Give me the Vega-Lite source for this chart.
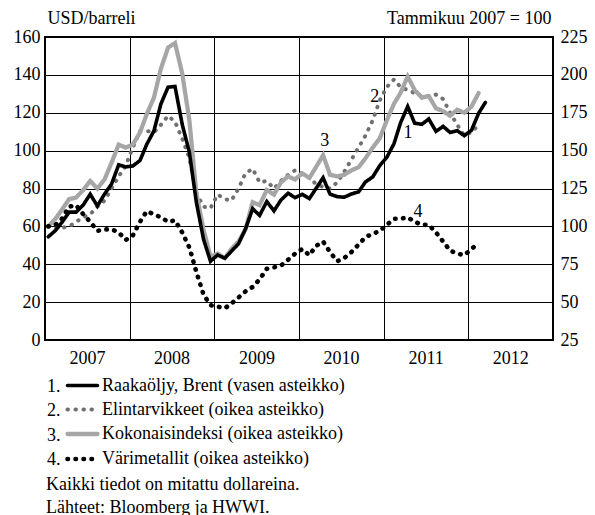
{
  "$schema": "https://vega.github.io/schema/vega-lite/v6.json",
  "width": 508,
  "height": 303,
  "autosize": {"type": "none"},
  "padding": {"left": 45, "top": 37, "right": 42, "bottom": 175},
  "background": "white",
  "title": {
    "text": ["Kaikki tiedot on mitattu dollareina.", "Lähteet: Bloomberg ja HWWI."],
    "orient": "bottom", "anchor": "start", "frame": "group", "offset": 6,
    "font": "Liberation Serif, DejaVu Serif, serif", "fontSize": 18, "fontWeight": "normal", "color": "#000", "lineHeight": 23, "dx": 1
  },
  "data": {"values": [
{"date":"2007-01-15","s":"1","v":54.5},{"date":"2007-02-15","s":"1","v":57.8},{"date":"2007-03-15","s":"1","v":62.1},{"date":"2007-04-15","s":"1","v":67.5},{"date":"2007-05-15","s":"1","v":67.5},{"date":"2007-06-15","s":"1","v":71.3},{"date":"2007-07-15","s":"1","v":77.0},{"date":"2007-08-15","s":"1","v":70.8},{"date":"2007-09-15","s":"1","v":77.1},{"date":"2007-10-15","s":"1","v":82.3},{"date":"2007-11-15","s":"1","v":92.5},{"date":"2007-12-15","s":"1","v":91.4},
{"date":"2008-01-15","s":"1","v":91.9},{"date":"2008-02-15","s":"1","v":94.8},{"date":"2008-03-15","s":"1","v":103.3},{"date":"2008-04-15","s":"1","v":110.4},{"date":"2008-05-15","s":"1","v":124.6},{"date":"2008-06-15","s":"1","v":133.5},{"date":"2008-07-15","s":"1","v":133.9},{"date":"2008-08-15","s":"1","v":113.9},{"date":"2008-09-15","s":"1","v":99.1},{"date":"2008-10-15","s":"1","v":72.8},{"date":"2008-11-15","s":"1","v":53.2},{"date":"2008-12-15","s":"1","v":41.6},
{"date":"2009-01-15","s":"1","v":44.9},{"date":"2009-02-15","s":"1","v":43.2},{"date":"2009-03-15","s":"1","v":46.8},{"date":"2009-04-15","s":"1","v":50.8},{"date":"2009-05-15","s":"1","v":58.6},{"date":"2009-06-15","s":"1","v":69.3},{"date":"2009-07-15","s":"1","v":65.8},{"date":"2009-08-15","s":"1","v":73.1},{"date":"2009-09-15","s":"1","v":68.2},{"date":"2009-10-15","s":"1","v":73.9},{"date":"2009-11-15","s":"1","v":77.5},{"date":"2009-12-15","s":"1","v":75.2},
{"date":"2010-01-15","s":"1","v":76.9},{"date":"2010-02-15","s":"1","v":74.7},{"date":"2010-03-15","s":"1","v":79.9},{"date":"2010-04-15","s":"1","v":85.7},{"date":"2010-05-15","s":"1","v":77.0},{"date":"2010-06-15","s":"1","v":75.7},{"date":"2010-07-15","s":"1","v":75.4},{"date":"2010-08-15","s":"1","v":77.1},{"date":"2010-09-15","s":"1","v":78.2},{"date":"2010-10-15","s":"1","v":83.5},{"date":"2010-11-15","s":"1","v":86.1},{"date":"2010-12-15","s":"1","v":92.0},
{"date":"2011-01-15","s":"1","v":96.5},{"date":"2011-02-15","s":"1","v":103.7},{"date":"2011-03-15","s":"1","v":114.6},{"date":"2011-04-15","s":"1","v":123.3},{"date":"2011-05-15","s":"1","v":114.5},{"date":"2011-06-15","s":"1","v":113.9},{"date":"2011-07-15","s":"1","v":116.7},{"date":"2011-08-15","s":"1","v":110.2},{"date":"2011-09-15","s":"1","v":112.8},{"date":"2011-10-15","s":"1","v":109.6},{"date":"2011-11-15","s":"1","v":110.5},{"date":"2011-12-15","s":"1","v":107.9},
{"date":"2012-01-15","s":"1","v":110.7},{"date":"2012-02-15","s":"1","v":119.7},{"date":"2012-03-15","s":"1","v":125.4},

{"date":"2007-01-15","s":"2","v":100},{"date":"2007-02-15","s":"2","v":99},{"date":"2007-03-15","s":"2","v":99},{"date":"2007-04-15","s":"2","v":100},{"date":"2007-05-15","s":"2","v":103},{"date":"2007-06-15","s":"2","v":106},{"date":"2007-07-15","s":"2","v":108},{"date":"2007-08-15","s":"2","v":113},{"date":"2007-09-15","s":"2","v":117},{"date":"2007-10-15","s":"2","v":125},{"date":"2007-11-15","s":"2","v":133},{"date":"2007-12-15","s":"2","v":140},
{"date":"2008-01-15","s":"2","v":152},{"date":"2008-02-15","s":"2","v":163},{"date":"2008-03-15","s":"2","v":163},{"date":"2008-04-15","s":"2","v":162},{"date":"2008-05-15","s":"2","v":167},{"date":"2008-06-15","s":"2","v":173},{"date":"2008-07-15","s":"2","v":169},{"date":"2008-08-15","s":"2","v":158},{"date":"2008-09-15","s":"2","v":145},{"date":"2008-10-15","s":"2","v":122},{"date":"2008-11-15","s":"2","v":113},{"date":"2008-12-15","s":"2","v":112},
{"date":"2009-01-15","s":"2","v":121},{"date":"2009-02-15","s":"2","v":118},{"date":"2009-03-15","s":"2","v":117},{"date":"2009-04-15","s":"2","v":125},{"date":"2009-05-15","s":"2","v":135},{"date":"2009-06-15","s":"2","v":138},{"date":"2009-07-15","s":"2","v":129},{"date":"2009-08-15","s":"2","v":130},{"date":"2009-09-15","s":"2","v":125},{"date":"2009-10-15","s":"2","v":130},{"date":"2009-11-15","s":"2","v":134},{"date":"2009-12-15","s":"2","v":137},
{"date":"2010-01-15","s":"2","v":135},{"date":"2010-02-15","s":"2","v":132},{"date":"2010-03-15","s":"2","v":128},{"date":"2010-04-15","s":"2","v":126},{"date":"2010-05-15","s":"2","v":125},{"date":"2010-06-15","s":"2","v":129},{"date":"2010-07-15","s":"2","v":136},{"date":"2010-08-15","s":"2","v":144},{"date":"2010-09-15","s":"2","v":152},{"date":"2010-10-15","s":"2","v":160},{"date":"2010-11-15","s":"2","v":170},{"date":"2010-12-15","s":"2","v":183},
{"date":"2011-01-15","s":"2","v":192},{"date":"2011-02-15","s":"2","v":197},{"date":"2011-03-15","s":"2","v":192},{"date":"2011-04-15","s":"2","v":190},{"date":"2011-05-15","s":"2","v":188},{"date":"2011-06-15","s":"2","v":186},{"date":"2011-07-15","s":"2","v":186},{"date":"2011-08-15","s":"2","v":187},{"date":"2011-09-15","s":"2","v":184},{"date":"2011-10-15","s":"2","v":175},{"date":"2011-11-15","s":"2","v":167},{"date":"2011-12-15","s":"2","v":160},
{"date":"2012-01-15","s":"2","v":162},{"date":"2012-02-15","s":"2","v":167},

{"date":"2007-01-15","s":"3","v":100},{"date":"2007-02-15","s":"3","v":105},{"date":"2007-03-15","s":"3","v":111},{"date":"2007-04-15","s":"3","v":118},{"date":"2007-05-15","s":"3","v":119},{"date":"2007-06-15","s":"3","v":124},{"date":"2007-07-15","s":"3","v":130},{"date":"2007-08-15","s":"3","v":125},{"date":"2007-09-15","s":"3","v":131},{"date":"2007-10-15","s":"3","v":142},{"date":"2007-11-15","s":"3","v":154},{"date":"2007-12-15","s":"3","v":152},
{"date":"2008-01-15","s":"3","v":154},{"date":"2008-02-15","s":"3","v":162},{"date":"2008-03-15","s":"3","v":174},{"date":"2008-04-15","s":"3","v":185},{"date":"2008-05-15","s":"3","v":204},{"date":"2008-06-15","s":"3","v":218},{"date":"2008-07-15","s":"3","v":221},{"date":"2008-08-15","s":"3","v":201},{"date":"2008-09-15","s":"3","v":170},{"date":"2008-10-15","s":"3","v":122},{"date":"2008-11-15","s":"3","v":98},{"date":"2008-12-15","s":"3","v":80},
{"date":"2009-01-15","s":"3","v":82},{"date":"2009-02-15","s":"3","v":79},{"date":"2009-03-15","s":"3","v":85},{"date":"2009-04-15","s":"3","v":90},{"date":"2009-05-15","s":"3","v":98},{"date":"2009-06-15","s":"3","v":116},{"date":"2009-07-15","s":"3","v":114},{"date":"2009-08-15","s":"3","v":124},{"date":"2009-09-15","s":"3","v":121},{"date":"2009-10-15","s":"3","v":129},{"date":"2009-11-15","s":"3","v":133},{"date":"2009-12-15","s":"3","v":131},
{"date":"2010-01-15","s":"3","v":135},{"date":"2010-02-15","s":"3","v":132},{"date":"2010-03-15","s":"3","v":139},{"date":"2010-04-15","s":"3","v":147},{"date":"2010-05-15","s":"3","v":134},{"date":"2010-06-15","s":"3","v":133},{"date":"2010-07-15","s":"3","v":134},{"date":"2010-08-15","s":"3","v":137},{"date":"2010-09-15","s":"3","v":139},{"date":"2010-10-15","s":"3","v":145},{"date":"2010-11-15","s":"3","v":152},{"date":"2010-12-15","s":"3","v":158},
{"date":"2011-01-15","s":"3","v":170},{"date":"2011-02-15","s":"3","v":181},{"date":"2011-03-15","s":"3","v":188},{"date":"2011-04-15","s":"3","v":199},{"date":"2011-05-15","s":"3","v":190},{"date":"2011-06-15","s":"3","v":185},{"date":"2011-07-15","s":"3","v":186},{"date":"2011-08-15","s":"3","v":178},{"date":"2011-09-15","s":"3","v":176},{"date":"2011-10-15","s":"3","v":173},{"date":"2011-11-15","s":"3","v":177},{"date":"2011-12-15","s":"3","v":175},
{"date":"2012-01-15","s":"3","v":179},{"date":"2012-02-15","s":"3","v":188},

{"date":"2007-01-15","s":"4","v":100},{"date":"2007-02-15","s":"4","v":101},{"date":"2007-03-15","s":"4","v":105},{"date":"2007-04-15","s":"4","v":113},{"date":"2007-05-15","s":"4","v":114},{"date":"2007-06-15","s":"4","v":108},{"date":"2007-07-15","s":"4","v":103},{"date":"2007-08-15","s":"4","v":97},{"date":"2007-09-15","s":"4","v":98},{"date":"2007-10-15","s":"4","v":98},{"date":"2007-11-15","s":"4","v":96},{"date":"2007-12-15","s":"4","v":91},
{"date":"2008-01-15","s":"4","v":94},{"date":"2008-02-15","s":"4","v":103},{"date":"2008-03-15","s":"4","v":110},{"date":"2008-04-15","s":"4","v":108},{"date":"2008-05-15","s":"4","v":106},{"date":"2008-06-15","s":"4","v":103},{"date":"2008-07-15","s":"4","v":104},{"date":"2008-08-15","s":"4","v":96},{"date":"2008-09-15","s":"4","v":86},{"date":"2008-10-15","s":"4","v":70},{"date":"2008-11-15","s":"4","v":55},{"date":"2008-12-15","s":"4","v":48},
{"date":"2009-01-15","s":"4","v":47},{"date":"2009-02-15","s":"4","v":46},{"date":"2009-03-15","s":"4","v":49},{"date":"2009-04-15","s":"4","v":53},{"date":"2009-05-15","s":"4","v":57},{"date":"2009-06-15","s":"4","v":60},{"date":"2009-07-15","s":"4","v":65},{"date":"2009-08-15","s":"4","v":72},{"date":"2009-09-15","s":"4","v":73},{"date":"2009-10-15","s":"4","v":74},{"date":"2009-11-15","s":"4","v":78},{"date":"2009-12-15","s":"4","v":82},
{"date":"2010-01-15","s":"4","v":85},{"date":"2010-02-15","s":"4","v":81},{"date":"2010-03-15","s":"4","v":87},{"date":"2010-04-15","s":"4","v":90},{"date":"2010-05-15","s":"4","v":83},{"date":"2010-06-15","s":"4","v":77},{"date":"2010-07-15","s":"4","v":79},{"date":"2010-08-15","s":"4","v":83},{"date":"2010-09-15","s":"4","v":88},{"date":"2010-10-15","s":"4","v":93},{"date":"2010-11-15","s":"4","v":95},{"date":"2010-12-15","s":"4","v":97},
{"date":"2011-01-15","s":"4","v":101},{"date":"2011-02-15","s":"4","v":105},{"date":"2011-03-15","s":"4","v":105},{"date":"2011-04-15","s":"4","v":106},{"date":"2011-05-15","s":"4","v":103},{"date":"2011-06-15","s":"4","v":101},{"date":"2011-07-15","s":"4","v":101},{"date":"2011-08-15","s":"4","v":96},{"date":"2011-09-15","s":"4","v":90},{"date":"2011-10-15","s":"4","v":84},{"date":"2011-11-15","s":"4","v":82},{"date":"2011-12-15","s":"4","v":81},
{"date":"2012-01-15","s":"4","v":85},{"date":"2012-02-15","s":"4","v":89}
  ]},
  "encoding": {
    "x": {
      "field": "date", "type": "temporal",
      "scale": {"type": "utc", "domain": [{"year": 2007, "month": 1, "date": 1, "utc": true}, {"year": 2013, "month": 1, "date": 1, "utc": true}]},
      "axis": {
        "title": null, "tickCount": {"interval": "year", "step": 1}, "grid": true, "ticks": false, "domain": false,
        "labelExpr": "utcyear(datum.value) > 2012 ? '' : utcFormat(datum.value, '%Y')",
        "labelAlign": "center", "labelOffset": 42, "labelPadding": 9, "labelFlush": false, "labelOverlap": false, "labelBaseline": "top"
      }
    }
  },
  "layer": [
    {
      "transform": [{"filter": "datum.s != '1'"}],
      "mark": {"type": "line", "strokeCap": "round"},
      "encoding": {
        "y": {"field": "v", "type": "quantitative",
          "scale": {"domain": [25, 225], "nice": false, "zero": false},
          "axis": {"orient": "right", "values": [25, 50, 75, 100, 125, 150, 175, 200, 225], "grid": false, "ticks": false, "domain": false, "labelPadding": 7,
            "title": "Tammikuu 2007 = 100", "titleAngle": 0, "titleX": -2, "titleY": -14, "titleAlign": "right", "titleBaseline": "alphabetic"}},
        "strokeWidth": {"field": "s", "type": "ordinal", "scale": {"domain": ["1", "2", "3", "4"], "range": [3.6, 4.6, 4.4, 4.6]}, "legend": null},
        "color": {"field": "s", "type": "nominal",
          "scale": {"domain": ["1", "2", "3", "4"], "range": ["#000000", "#707070", "#a6a6a6", "#000000"]},
          "legend": {"orient": "none", "legendX": 2, "legendY": 337.5, "direction": "vertical",
            "title": ["1.", "2.", "3.", "4."], "titleOrient": "left", "titleLineHeight": 24.5, "titlePadding": 4, "titleBaseline": "line-top", "titleAnchor": "start",
            "symbolType": "M-1.667,0H1.667", "symbolSize": 324, "symbolOffset": 6, "symbolStrokeWidth": 4.2, "labelOffset": 8, "rowPadding": 4, "labelLimit": 400,
            "labelExpr": "datum.label == '1' ? 'Raakaöljy, Brent (vasen asteikko)' : datum.label == '2' ? 'Elintarvikkeet (oikea asteikko)' : datum.label == '3' ? 'Kokonaisindeksi (oikea asteikko)' : 'Värimetallit (oikea asteikko)'",
            "encode": {"symbols": {"update": {"strokeCap": {"value": "round"}}}}}},
        "strokeDash": {"field": "s", "type": "nominal",
          "scale": {"domain": ["1", "2", "3", "4"], "range": [[1, 0], [0.5, 7.5], [1, 0], [0.5, 7.5]]},
          "legend": {"orient": "none", "legendX": 2, "legendY": 337.5, "direction": "vertical",
            "title": ["1.", "2.", "3.", "4."], "titleOrient": "left", "titleLineHeight": 24.5, "titlePadding": 4, "titleBaseline": "line-top", "titleAnchor": "start",
            "symbolType": "M-1.667,0H1.667", "symbolSize": 324, "symbolOffset": 6, "symbolStrokeWidth": 4.2, "labelOffset": 8, "rowPadding": 4, "labelLimit": 400,
            "labelExpr": "datum.label == '1' ? 'Raakaöljy, Brent (vasen asteikko)' : datum.label == '2' ? 'Elintarvikkeet (oikea asteikko)' : datum.label == '3' ? 'Kokonaisindeksi (oikea asteikko)' : 'Värimetallit (oikea asteikko)'",
            "encode": {"symbols": {"update": {"strokeCap": {"value": "round"}}}}}}
      }
    },
    {
      "transform": [{"filter": "datum.s == '1'"}],
      "mark": {"type": "line", "strokeWidth": 3.6, "strokeCap": "round"},
      "encoding": {
        "y": {"field": "v", "type": "quantitative",
          "scale": {"domain": [0, 160], "nice": false, "zero": false},
          "axis": {"orient": "left", "values": [0, 20, 40, 60, 80, 100, 120, 140, 160], "grid": true, "ticks": false, "domain": false, "labelPadding": 5,
            "title": "USD/barreli", "titleAngle": 0, "titleX": 2, "titleY": -14, "titleAlign": "left", "titleBaseline": "alphabetic"}},
        "color": {"field": "s", "type": "nominal",
          "scale": {"domain": ["1", "2", "3", "4"], "range": ["#000000", "#707070", "#a6a6a6", "#000000"]},
          "legend": {"orient": "none", "legendX": 2, "legendY": 337.5, "direction": "vertical",
            "title": ["1.", "2.", "3.", "4."], "titleOrient": "left", "titleLineHeight": 24.5, "titlePadding": 4, "titleBaseline": "line-top", "titleAnchor": "start",
            "symbolType": "M-1.667,0H1.667", "symbolSize": 324, "symbolOffset": 6, "symbolStrokeWidth": 4.2, "labelOffset": 8, "rowPadding": 4, "labelLimit": 400,
            "labelExpr": "datum.label == '1' ? 'Raakaöljy, Brent (vasen asteikko)' : datum.label == '2' ? 'Elintarvikkeet (oikea asteikko)' : datum.label == '3' ? 'Kokonaisindeksi (oikea asteikko)' : 'Värimetallit (oikea asteikko)'",
            "encode": {"symbols": {"update": {"strokeCap": {"value": "round"}}}}}},
        "strokeDash": {"field": "s", "type": "nominal",
          "scale": {"domain": ["1", "2", "3", "4"], "range": [[1, 0], [0.5, 7.5], [1, 0], [0.5, 7.5]]},
          "legend": {"orient": "none", "legendX": 2, "legendY": 337.5, "direction": "vertical",
            "title": ["1.", "2.", "3.", "4."], "titleOrient": "left", "titleLineHeight": 24.5, "titlePadding": 4, "titleBaseline": "line-top", "titleAnchor": "start",
            "symbolType": "M-1.667,0H1.667", "symbolSize": 324, "symbolOffset": 6, "symbolStrokeWidth": 4.2, "labelOffset": 8, "rowPadding": 4, "labelLimit": 400,
            "labelExpr": "datum.label == '1' ? 'Raakaöljy, Brent (vasen asteikko)' : datum.label == '2' ? 'Elintarvikkeet (oikea asteikko)' : datum.label == '3' ? 'Kokonaisindeksi (oikea asteikko)' : 'Värimetallit (oikea asteikko)'",
            "encode": {"symbols": {"update": {"strokeCap": {"value": "round"}}}}}}
      }
    },
    {
      "data": {"values": [
        {"date": "2010-04-22", "v": 105, "label": "3"},
        {"date": "2010-11-24", "v": 128.5, "label": "2"},
        {"date": "2011-04-16", "v": 109.5, "label": "1"},
        {"date": "2011-05-30", "v": 67.5, "label": "4"}
      ]},
      "mark": {"type": "text", "fontSize": 18, "font": "Liberation Serif, DejaVu Serif, serif", "color": "#000", "baseline": "middle", "align": "center"},
      "encoding": {
        "y": {"field": "v", "type": "quantitative", "scale": {"domain": [0, 160], "nice": false, "zero": false}, "axis": null},
        "text": {"field": "label"}
      }
    }
  ],
  "resolve": {"scale": {"y": "independent"}, "axis": {"y": "independent"}},
  "config": {
    "font": "Liberation Serif, DejaVu Serif, serif",
    "view": {"stroke": "#000", "strokeWidth": 2},
    "axis": {"labelFont": "Liberation Serif, DejaVu Serif, serif", "labelFontSize": 18, "labelColor": "#000", "titleFont": "Liberation Serif, DejaVu Serif, serif", "titleFontSize": 18, "titleFontWeight": "normal", "titleColor": "#000", "gridColor": "#000", "gridWidth": 1, "gridOpacity": 1},
    "legend": {"labelFont": "Liberation Serif, DejaVu Serif, serif", "labelFontSize": 18, "labelColor": "#000", "titleFont": "Liberation Serif, DejaVu Serif, serif", "titleFontSize": 18, "titleFontWeight": "normal", "titleColor": "#000"}
  }
}
